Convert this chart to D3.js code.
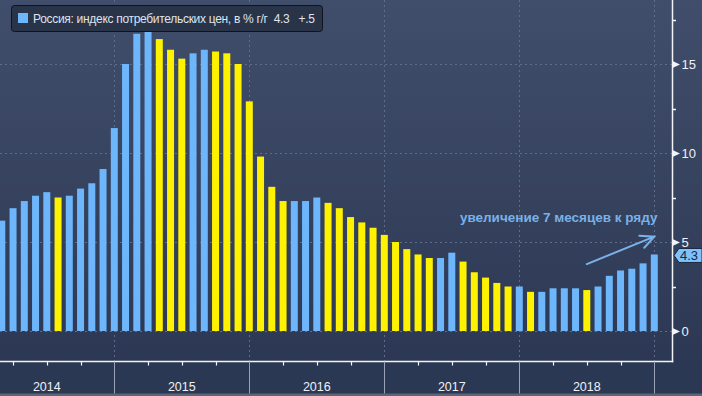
<!DOCTYPE html>
<head>
  <meta charset="utf-8">
  <script src="https://d3js.org/d3.v7.min.js"></script>
  <style>
    body { margin: 0; background: #2b3853; }
    text { font-family: "Liberation Sans", Arial, sans-serif; }
    .grid { stroke: #5d6d8c; stroke-dasharray: 2, 3; stroke-width: 1; }
    .axis-line { stroke: #f2f4f8; stroke-width: 1.5; }
  </style>
</head>
<body>
  <script>
    // CPI y/y, monthly, Jan 2014 .. Dec 2018
    var years = [2014, 2015, 2016, 2017, 2018];
    var cpi2014 = [6.1, 6.2, 6.9, 7.3, 7.6, 7.8, 7.5, 7.6, 8.0, 8.3, 9.1, 11.4];
    var cpi2015 = [15.0, 16.7, 16.9, 16.4, 15.8, 15.3, 15.6, 15.8, 15.7, 15.6, 15.0, 12.9];
    var cpi2016 = [9.8, 8.1, 7.3, 7.3, 7.3, 7.5, 7.2, 6.9, 6.4, 6.1, 5.8, 5.4];
    var cpi2017 = [5.0, 4.6, 4.3, 4.1, 4.1, 4.4, 3.9, 3.3, 3.0, 2.7, 2.5, 2.5];
    var cpi2018 = [2.2, 2.2, 2.4, 2.4, 2.4, 2.3, 2.5, 3.1, 3.4, 3.5, 3.8, 4.3];
    var yTicks = [0, 5, 10, 15];
    var yMinor = [2.5, 7.5, 12.5, 17.5];
    var legendText = "Россия: индекс потребительских цен, в % г/г  4.3   +.5";
    var noteText = "увеличение 7 месяцев к ряду";
    var lastLabel = "4.3";

    var values = [].concat(cpi2014, cpi2015, cpi2016, cpi2017, cpi2018);
    var data = values.map(function(v, i) {
      return { m: i, value: v, down: i > 0 && v < values[i - 1] };
    });

    var W = 702, H = 396;
    var plotRight = 672.5, plotBottom = 361.5;

    var blue = "#6db6fb", yellow = "#fff200";

    // month index -> px ; bars sit on month ends
    var x = d3.scaleLinear().domain([0, 60]).range([-20.7, 654.3]);
    var y = d3.scaleLinear().domain([0, 5]).range([331, 242]);

    var svg = d3.select("body").append("svg")
        .attr("width", W)
        .attr("height", H);

    var defs = svg.append("defs");
    var grad = defs.append("linearGradient").attr("id", "bg")
        .attr("x1", 0).attr("y1", 0).attr("x2", 0).attr("y2", 1);
    grad.append("stop").attr("offset", "0%").attr("stop-color", "#414e6b");
    grad.append("stop").attr("offset", "100%").attr("stop-color", "#2a3651");

    defs.append("clipPath").attr("id", "plot")
      .append("rect").attr("x", 0).attr("y", 0)
        .attr("width", plotRight).attr("height", plotBottom);

    svg.append("rect")
        .attr("width", W).attr("height", H)
        .attr("fill", "url(#bg)");

    svg.append("rect")
        .attr("x", 0).attr("y", plotBottom).attr("width", W).attr("height", H - plotBottom)
        .attr("fill", "#2b3853");
    svg.append("rect")
        .attr("x", 0).attr("y", 393.5).attr("width", W).attr("height", 3)
        .attr("fill", "#5d6475");

    // grid
    var grid = svg.append("g");
    grid.selectAll(".hg")
      .data(yTicks)
      .enter().append("line")
        .attr("class", "grid")
        .attr("x1", 0).attr("x2", plotRight)
        .attr("y1", function(d) { return Math.round(y(d)) + 0.5; })
        .attr("y2", function(d) { return Math.round(y(d)) + 0.5; });

    var yearBounds = d3.range(1, years.length + 1).map(function(k) { return k * 12; });
    grid.selectAll(".vg")
      .data(yearBounds)
      .enter().append("line")
        .attr("class", "grid")
        .attr("x1", function(d) { return Math.round(x(d)) + 0.5; })
        .attr("x2", function(d) { return Math.round(x(d)) + 0.5; })
        .attr("y1", 0).attr("y2", plotBottom);

    // bars
    svg.append("g")
        .attr("clip-path", "url(#plot)")
      .selectAll("rect")
      .data(data)
      .enter().append("rect")
        .attr("x", function(d) { return x(d.m + 1) - 3.5; })
        .attr("width", 7)
        .attr("y", function(d) { return y(d.value); })
        .attr("height", function(d) { return y(0) - y(d.value); })
        .attr("fill", function(d) { return d.down ? yellow : blue; });

    // axes frame
    svg.append("line").attr("class", "axis-line")
        .attr("x1", plotRight).attr("x2", plotRight)
        .attr("y1", 0).attr("y2", plotBottom + 0.75);
    svg.append("line").attr("class", "axis-line")
        .attr("x1", 0).attr("x2", plotRight + 0.75)
        .attr("y1", plotBottom).attr("y2", plotBottom);

    // right axis ticks
    var yAxis = svg.append("g");
    yAxis.selectAll("path")
      .data(yTicks)
      .enter().append("path")
        .attr("d", function(d) {
          var yy = Math.round(y(d)) + 0.5;
          return "M" + plotRight + "," + (yy - 3.5) + "L" + (plotRight + 7.5) + "," + yy + "L" + plotRight + "," + (yy + 3.5) + "Z";
        })
        .attr("fill", "#f2f4f8");
    yAxis.selectAll(".minor")
      .data(yMinor)
      .enter().append("line")
        .attr("x1", plotRight).attr("x2", plotRight + 3.5)
        .attr("y1", function(d) { return Math.round(y(d)) + 0.5; })
        .attr("y2", function(d) { return Math.round(y(d)) + 0.5; })
        .attr("stroke", "#f2f4f8").attr("stroke-width", 1.5);
    yAxis.selectAll("text")
      .data(yTicks)
      .enter().append("text")
        .attr("x", plotRight + 9)
        .attr("y", function(d) { return y(d); })
        .attr("dy", "0.36em")
        .attr("font-size", 13)
        .attr("fill", "#eef1f6")
        .text(function(d) { return d; });

    // last value marker (drawn over the "5" label, as in the source)
    var lastY = y(values[values.length - 1]) + 1;
    svg.append("path")
        .attr("d", "M" + (plotRight + 1.5) + "," + lastY + "L" + (plotRight + 6.5) + "," + (lastY - 7) +
          "L" + W + "," + (lastY - 7) + "L" + W + "," + (lastY + 7) + "L" + (plotRight + 6.5) + "," + (lastY + 7) + "Z")
        .attr("fill", "#7ec2fb")
        .attr("stroke", "#1b2740");
    svg.append("text")
        .attr("x", plotRight + 7.5)
        .attr("y", lastY)
        .attr("dy", "0.36em")
        .attr("font-size", 13)
        .attr("fill", "#1a2640")
        .text(lastLabel);

    // bottom axis: quarter ticks, year separators, year labels
    var xAxis = svg.append("g");
    xAxis.selectAll(".q")
      .data(d3.range(0, 61, 3).filter(function(d) { return d % 12 !== 0; }))
      .enter().append("line")
        .attr("x1", function(d) { return Math.round(x(d)) + 0.5; })
        .attr("x2", function(d) { return Math.round(x(d)) + 0.5; })
        .attr("y1", plotBottom).attr("y2", plotBottom + 4)
        .attr("stroke", "#f2f4f8").attr("stroke-width", 1.2);
    xAxis.selectAll(".yr")
      .data(yearBounds)
      .enter().append("line")
        .attr("x1", function(d) { return Math.round(x(d)) + 0.5; })
        .attr("x2", function(d) { return Math.round(x(d)) + 0.5; })
        .attr("y1", plotBottom).attr("y2", 393.5)
        .attr("stroke", "#9aa3b5").attr("stroke-width", 1);
    xAxis.selectAll("text")
      .data(years)
      .enter().append("text")
        .attr("x", function(d, i) { return x(i * 12 + 6); })
        .attr("y", 391)
        .attr("text-anchor", "middle")
        .attr("font-size", 12.5)
        .attr("fill", "#eef1f6")
        .text(function(d) { return d; });

    // legend
    var legend = svg.append("g");
    legend.append("rect")
        .attr("x", 11.5).attr("y", 5.5).attr("width", 311).attr("height", 26).attr("rx", 3)
        .attr("fill", "#2a3449").attr("stroke", "#0f131b");
    legend.append("rect")
        .attr("x", 18).attr("y", 13).attr("width", 10).attr("height", 10)
        .attr("fill", blue);
    legend.append("text")
        .attr("x", 33).attr("y", 23)
        .attr("font-size", 12)
        .attr("fill", "#dfe4ec")
        .attr("textLength", 282)
        .attr("lengthAdjust", "spacing")
        .style("white-space", "pre")
        .text(legendText);

    // annotation
    svg.append("text")
        .attr("x", 657.5).attr("y", 222)
        .attr("text-anchor", "end")
        .attr("font-size", 13.5)
        .attr("font-weight", "bold")
        .attr("fill", "#79b1e8")
        .text(noteText);

    var a0 = [x(54), y(3.76)], a1 = [x(60), y(5.3)];
    var ang = Math.atan2(a1[1] - a0[1], a1[0] - a0[0]);
    var head = 15, spread = 0.45;
    svg.append("path")
        .attr("d", "M" + a0 + "L" + a1 +
          "M" + [a1[0] - head * Math.cos(ang - spread), a1[1] - head * Math.sin(ang - spread)] +
          "L" + a1 +
          "L" + [a1[0] - head * Math.cos(ang + spread), a1[1] - head * Math.sin(ang + spread)])
        .attr("fill", "none")
        .attr("stroke", "#79b1e8")
        .attr("stroke-width", 2)
        .attr("stroke-linecap", "round");
  </script>
</body>
